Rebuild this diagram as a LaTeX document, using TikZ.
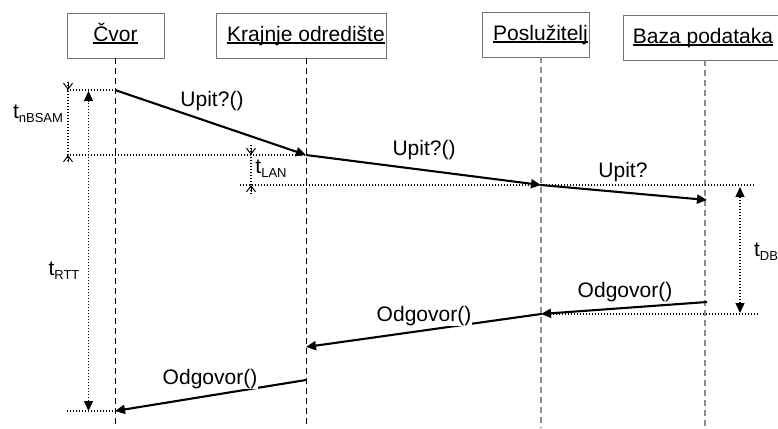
\documentclass[tikz,border=0pt]{standalone}
\usepackage{fontspec}
\setmainfont{Liberation Sans}
\usetikzlibrary{arrows.meta}
\newcommand\myul[1]{\setbox0\hbox{#1}\rlap{\rule[-2.2pt]{\wd0}{1.2pt}}\box0}
\newcommand\tsub[2]{#1\raisebox{-4pt}{\fontsize{13}{13}\selectfont #2}}
\tikzset{
  obj/.style={draw=black!55, line width=0.9pt, minimum height=45pt, inner sep=0pt,
    text height=16pt, text depth=4pt, font=\fontsize{21}{21}\selectfont},
  lifeA/.style={black, line width=0.8pt, dash pattern=on 6pt off 4pt},
  lifeB/.style={black!45, line width=1.8pt, dash pattern=on 6pt off 4pt},
  msg/.style={black, line width=2.1pt, -{Triangle[length=10pt,width=9pt]}},
  lbl/.style={font=\fontsize{21}{21}\selectfont, fill=white, inner sep=0.5pt},
  dimlbl/.style={font=\fontsize{21}{21}\selectfont, inner sep=0pt},
  dots/.style={black, line width=1.3pt, dash pattern=on 1.4pt off 1.6pt},
  dimarr/.style={dots, {Triangle[length=10pt,width=9pt]}-{Triangle[length=10pt,width=9pt]}},
  barb/.style={black, line width=1pt, -{Straight Barb[length=6pt,width=9pt]}},
}
\begin{document}
\begin{tikzpicture}[x=1pt, y=-1pt]
\clip (0,0) rectangle (778,428);
\useasboundingbox (0,0) rectangle (778,428);
% objects
\node[obj, minimum width=97pt] (cvor) at (115.5,35.5) {\myul{Čvor}};
\node[obj, minimum width=170pt] (kraj) at (301,35.5) {\hspace*{10pt}\myul{Krajnje odredište}};
\node[obj, minimum width=107pt] (posl) at (535.5,34.5) {\hspace*{10pt}\myul{Poslužitelj}};
\node[obj, minimum width=160pt] (baza) at (703,37.5) {\myul{Baza podataka}};
% lifelines
\coordinate (lc) at (115,428);
\coordinate (lk) at (306,428);
\coordinate (lp) at (541,428);
\coordinate (lb) at (705,428);
\draw[lifeA] (cvor.south -| lc) -- (lc);
\draw[lifeA] (kraj.south -| lk) -- (lk);
\draw[lifeB] (posl.south -| lp) -- (lp);
\draw[lifeB] (baza.south -| lb) -- (lb);
% message points
\coordinate (m1s) at (115,90);
\coordinate (m1e) at (306,155);
\coordinate (m2e) at (541,185);
\coordinate (m3e) at (707,200);
\coordinate (m4s) at (707,302);
\coordinate (m4e) at (541,314);
\coordinate (m5e) at (306,347);
\coordinate (m6s) at (306,380);
\coordinate (m6e) at (115,411);
% dotted reference lines
\coordinate (h1) at (67,90);
\coordinate (h2) at (67,155);
\coordinate (h3a) at (240,185);
\coordinate (h3b) at (755,185);
\coordinate (h4) at (758,314);
\coordinate (h5) at (67,411);
\draw[dots] (h1) -- (m1s);
\draw[dots] (h2) -- (m1e);
\draw[dots] (h3a) -- (h3b);
\draw[dots] (m4e) -- (h4);
\draw[dots] (h5) -- (m6e);
% messages
\draw[msg] (m1s) -- (m1e);
\draw[msg] (m1e) -- (m2e);
\draw[msg] (m2e) -- (m3e);
\draw[msg] (m4s) -- (m4e);
\draw[msg] (m4e) -- (m5e);
\draw[msg] (m6s) -- (m6e);
% message labels
\node[lbl] (l1) at (212,101) {Upit?()};
\node[lbl] (l2) at (424,150) {Upit?()};
\node[lbl] (l3) at (623,172) {Upit?};
\node[lbl] (l4) at (625,292) {Odgovor()};
\node[lbl] (l5) at (424,316) {Odgovor()};
\node[lbl] (l6) at (210,379) {Odgovor()};
% t_nBSAM
\draw[dots] (68,82) -- (68,163);
\draw[barb] (68,83) -- (68,90);
\draw[barb] (68,162) -- (68,155);
\node[dimlbl] (tn) at (38,114) {\tsub{t}{nBSAM}};
% t_LAN
\draw[dots] (251,145) -- (251,195);
\draw[barb] (251,148) -- (251,155);
\draw[barb] (251,192) -- (251,185);
\node[dimlbl] (tl) at (271,169) {\tsub{t}{LAN}};
% t_RTT
\coordinate (ra) at (88.5,411);
\coordinate (rb) at (88.5,91);
\draw[dimarr] (ra) -- (rb);
\node[dimlbl] (tr) at (64,271) {\tsub{t}{RTT}};
% t_DB
\coordinate (da) at (740,313);
\coordinate (db) at (740,187);
\draw[dimarr] (da) -- (db);
\node[dimlbl] (td) at (766,252) {\tsub{t}{DB}};
\end{tikzpicture}
\end{document}
